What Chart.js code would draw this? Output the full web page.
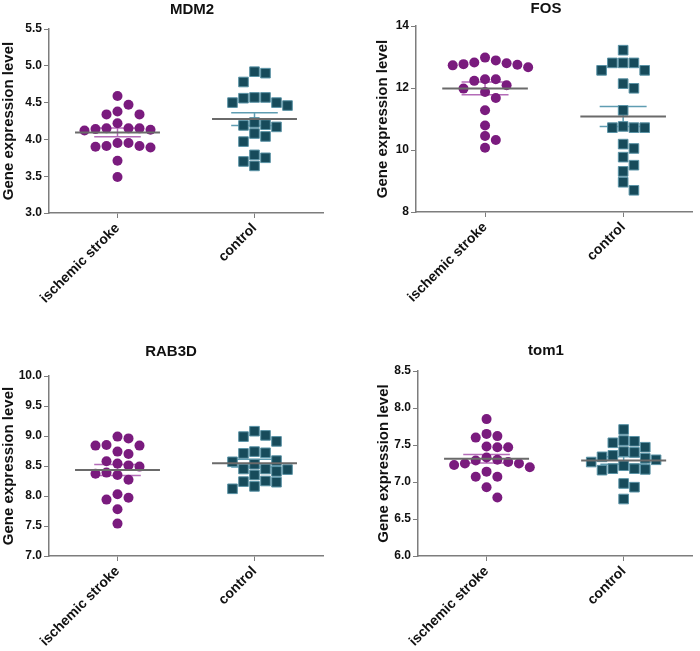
<!DOCTYPE html>
<html>
<head>
<meta charset="utf-8">
<title>Gene expression dot plots</title>
<script src="https://cdn.jsdelivr.net/npm/chart.js@4.4.1/dist/chart.umd.min.js"></script>
<style>
  html, body { margin: 0; padding: 0; background: #fff; }
  #wrap { position: relative; width: 700px; height: 651px; overflow: hidden; }
  .panel { position: absolute; }
</style>
</head>
<body>
<div id="wrap">
  <div class="panel" style="left:0;top:0"><canvas id="c1" width="350" height="325"></canvas></div>
  <div class="panel" style="left:350px;top:0"><canvas id="c2" width="350" height="325"></canvas></div>
  <div class="panel" style="left:0;top:325px"><canvas id="c3" width="350" height="326"></canvas></div>
  <div class="panel" style="left:350px;top:325px"><canvas id="c4" width="350" height="326"></canvas></div>
</div>
<script>
// values (20 samples per group)
const groups = ['ischemic stroke', 'control'];

const mdm2Stroke  = [4.59, 4.47, 4.38, 4.34, 4.34, 4.22, 4.15, 4.15, 4.13, 4.12, 4.14, 4.15, 3.95, 3.91, 3.89, 3.90, 3.91, 3.95, 3.71, 3.49];
const mdm2Control = [4.92, 4.90, 4.78, 4.57, 4.57, 4.56, 4.50, 4.50, 4.46, 4.23, 4.19, 4.17, 4.20, 4.08, 4.04, 3.97, 3.75, 3.79, 3.70, 3.64];
const mdm2Ticks   = [3.0, 3.5, 4.0, 4.5, 5.0, 5.5];

const fosStroke  = [12.98, 12.82, 12.77, 12.73, 12.67, 12.75, 12.80, 12.89, 12.28, 12.23, 12.28, 12.09, 11.98, 11.87, 11.68, 11.28, 10.79, 10.45, 10.32, 10.07];
const fosControl = [13.22, 12.81, 12.81, 12.81, 12.57, 12.57, 12.14, 11.99, 11.28, 10.72, 10.72, 10.72, 10.76, 10.19, 10.05, 9.77, 9.51, 9.31, 8.96, 8.70];
const fosTicks   = [8, 10, 12, 14];

const rab3dStroke  = [8.99, 8.96, 8.85, 8.84, 8.84, 8.74, 8.70, 8.58, 8.54, 8.49, 8.51, 8.39, 8.35, 8.37, 8.27, 8.03, 7.97, 7.94, 7.78, 7.54];
const rab3dControl = [9.08, 9.01, 8.99, 8.91, 8.74, 8.71, 8.72, 8.57, 8.59, 8.53, 8.45, 8.41, 8.44, 8.45, 8.35, 8.25, 8.23, 8.24, 8.16, 8.12];
const rab3dTicks   = [7.0, 7.5, 8.0, 8.5, 9.0, 9.5, 10.0];

const tom1Stroke  = [7.85, 7.65, 7.62, 7.60, 7.47, 7.47, 7.48, 7.33, 7.30, 7.27, 7.25, 7.29, 7.23, 7.25, 7.20, 7.14, 7.07, 7.07, 6.93, 6.79];
const tom1Control = [7.71, 7.56, 7.53, 7.55, 7.47, 7.40, 7.41, 7.36, 7.34, 7.32, 7.30, 7.27, 7.22, 7.18, 7.16, 7.18, 7.17, 6.98, 6.93, 6.77];
const tom1Ticks   = [6.0, 6.5, 7.0, 7.5, 8.0, 8.5];

const FONT = "'Liberation Sans', Arial, Helvetica, sans-serif";
const AXIS = '#7d7d7d';
const TEXT = '#111';
const X_MIN = 0.5, X_MAX = 2.5;
const MEAN_W = 0.31, SEM_W = 0.17;

const styles = [
  { shape: 'circle', radius: 5,   fill: '#7a1b7e', border: '#7a1b7e', bw: 0, sem: '#b46cb8' },
  { shape: 'rect',   radius: 6.8, fill: '#174b5b', border: '#5a93a6', bw: 1, sem: '#5f9db2' }
];

const panels = [
  { canvas: 'c1', title: 'MDM2',  a: mdm2Stroke,  b: mdm2Control,  ticks: mdm2Ticks,  dec: 1, padLeft: 0,  area: { left: 49, right: 323, top: 29, bottom: 213 }, tpos: [192, 10] },
  { canvas: 'c2', title: 'FOS',   a: fosStroke,   b: fosControl,   ticks: fosTicks,   dec: 0, padLeft: 24, area: { left: 66, right: 348, top: 26, bottom: 212 }, tpos: [196, 9] },
  { canvas: 'c3', title: 'RAB3D', a: rab3dStroke, b: rab3dControl, ticks: rab3dTicks, dec: 1, padLeft: 0,  area: { left: 49, right: 323, top: 51, bottom: 231 }, tpos: [171, 27] },
  { canvas: 'c4', title: 'tom1',  a: tom1Stroke,  b: tom1Control,  ticks: tom1Ticks,  dec: 1, padLeft: 25, area: { left: 68, right: 347, top: 46, bottom: 231 }, tpos: [196, 26] }
];

function stats(vals) {
  const n = vals.length;
  const mean = vals.reduce((s, v) => s + v, 0) / n;
  const sd = Math.sqrt(vals.reduce((s, v) => s + (v - mean) * (v - mean), 0) / (n - 1));
  return { mean, sem: sd / Math.sqrt(n) };
}

// simple column swarm: highest value first, take the nearest free slot
function swarm(vals, center, slot, gap) {
  const placed = [];
  const idx = vals.map((v, i) => i).sort((p, q) => vals[q] - vals[p]);
  idx.forEach(i => {
    const v = vals[i];
    for (let k = 0; k < 40; k++) {
      const s = k === 0 ? 0 : (k % 2 ? (k + 1) / 2 : -k / 2);
      if (!placed.some(p => p.s === s && Math.abs(p.y - v) < gap)) {
        placed.push({ x: center + s * slot, y: v, s });
        break;
      }
    }
  });
  return placed.map(p => ({ x: p.x, y: p.y }));
}

function seg(x1, x2, y1, y2, color, width, order) {
  return {
    data: [{ x: x1, y: y1 }, { x: x2, y: y2 }],
    showLine: true, pointRadius: 0, borderColor: color, borderWidth: width,
    order: order
  };
}

const panelTitle = {
  id: 'panelTitle',
  afterDraw(chart, args, opts) {
    const ctx = chart.ctx;
    ctx.save();
    ctx.font = 'bold 15px ' + FONT;
    ctx.fillStyle = TEXT;
    ctx.textAlign = 'center';
    ctx.textBaseline = 'middle';
    ctx.fillText(opts.text, opts.x, opts.y);
    ctx.restore();
  }
};

panels.forEach(p => {
  const cv = document.getElementById(p.canvas);
  const W = cv.width, H = cv.height;
  const yMin = p.ticks[0], yMax = p.ticks[p.ticks.length - 1];
  const pxY = (p.area.bottom - p.area.top) / (yMax - yMin);
  const pxX = (p.area.right - p.area.left) / (X_MAX - X_MIN);
  const slot = 11 / pxX, gap = 10.5 / pxY;

  const datasets = [];
  [p.a, p.b].forEach((vals, gi) => {
    const c = gi + 1;
    const st = stats(vals);
    const sty = styles[gi];
    datasets.push({
      data: swarm(vals, c, slot, gap),
      pointStyle: sty.shape, pointRadius: sty.radius,
      backgroundColor: sty.fill, borderColor: sty.border, borderWidth: sty.bw,
      order: 2
    });
    datasets.push(seg(c - SEM_W, c + SEM_W, st.mean + st.sem, st.mean + st.sem, sty.sem, 1.5, 3));
    datasets.push(seg(c - SEM_W, c + SEM_W, st.mean - st.sem, st.mean - st.sem, sty.sem, 1.5, 3));
    datasets.push(seg(c, c, st.mean - st.sem, st.mean + st.sem, sty.sem, 1.5, 3));
    datasets.push(seg(c - MEAN_W, c + MEAN_W, st.mean, st.mean, '#6a6a6a', 2, 1));
  });

  new Chart(cv, {
    type: 'scatter',
    data: { datasets },
    plugins: [panelTitle],
    options: {
      responsive: false,
      animation: false,
      devicePixelRatio: 1,
      layout: { padding: { left: p.padLeft, right: W - p.area.right, top: p.area.top, bottom: 0 } },
      plugins: {
        legend: { display: false },
        tooltip: { enabled: false },
        panelTitle: { text: p.title, x: p.tpos[0], y: p.tpos[1] }
      },
      scales: {
        x: {
          type: 'linear', min: X_MIN, max: X_MAX,
          afterBuildTicks: s => { s.ticks = groups.map((g, i) => ({ value: i + 1 })); },
          afterFit: s => { s.height = H - p.area.bottom; },
          border: { color: AXIS, width: 1.5 },
          grid: { drawOnChartArea: false, drawTicks: true, tickLength: 5, color: AXIS, lineWidth: 1 },
          ticks: {
            autoSkip: false, minRotation: 45, maxRotation: 45, padding: 2, color: TEXT,
            font: { family: FONT, size: 14, weight: 'bold' },
            callback: v => groups[Math.round(v) - 1]
          }
        },
        y: {
          min: yMin, max: yMax,
          afterBuildTicks: s => { s.ticks = p.ticks.map(v => ({ value: v })); },
          afterFit: s => { s.width = p.area.left - p.padLeft; },
          border: { color: AXIS, width: 1.5 },
          grid: { drawOnChartArea: false, drawTicks: true, tickLength: 5, color: AXIS, lineWidth: 1 },
          ticks: {
            padding: 2, color: TEXT,
            font: { family: FONT, size: 12, weight: 'bold' },
            callback: v => Number(v).toFixed(p.dec)
          },
          title: {
            display: true, text: 'Gene expression level', color: TEXT, padding: 0,
            font: { family: FONT, size: 15, weight: 'bold' }
          }
        }
      }
    }
  });
});
</script>
</body>
</html>
